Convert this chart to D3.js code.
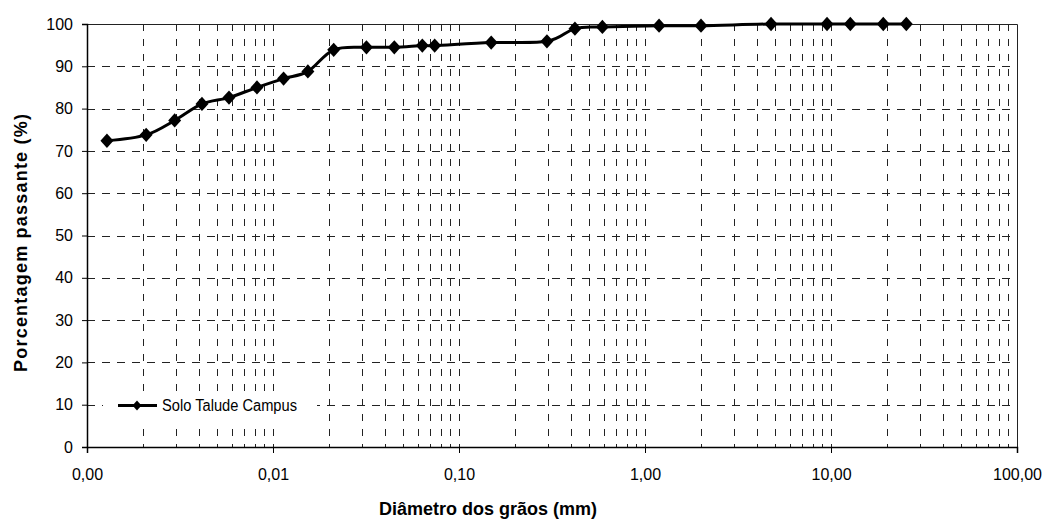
<!DOCTYPE html>
<html>
<head>
<meta charset="utf-8">
<script src="https://cdn.jsdelivr.net/npm/d3@7"></script>
<style>
  body { margin: 0; background: #fff; }
  text { font-family: "Liberation Sans", Arial, sans-serif; fill: #000; }
</style>
</head>
<body>
<div class="canvas"></div>
<script>
const serie = 'Solo Talude Campus';
const diametros = [0.00128, 0.00208, 0.00296, 0.00415, 0.0058, 0.0082, 0.0114, 0.0154,
  0.0212, 0.0318, 0.0449, 0.0635, 0.074, 0.149, 0.297, 0.42, 0.59, 1.19, 2.0,
  4.76, 9.52, 12.7, 19.1, 25.4];
const passantes = [72.4, 73.8, 77.2, 81.1, 82.6, 85.0, 87.1, 88.8, 93.9, 94.5, 94.5,
  94.9, 94.9, 95.6, 95.9, 98.9, 99.3, 99.6, 99.6, 100, 100, 100, 100, 100];
const xTicks = [0.001, 0.01, 0.1, 1, 10, 100];
const xTickLabels = ['0,00', '0,01', '0,10', '1,00', '10,00', '100,00'];
const yTicks = [0, 10, 20, 30, 40, 50, 60, 70, 80, 90, 100];

const data = diametros.map((d, i) => ({ d: d, p: passantes[i] }));

const svg = d3.select('.canvas')
  .append('svg')
  .attr('width', 1047)
  .attr('height', 522);

const plotL = 87, plotT = 24, plotR = 1017, plotB = 447;

const x = d3.scaleLog()
  .domain([0.001, 100])
  .range([plotL, plotR]);

const y = d3.scaleLinear()
  .domain([0, 100])
  .range([plotB, plotT]);

const px = v => Math.round(v) + 0.5;

// grid
const minors = x.ticks().filter(t => t > 0.001 && t < 100);
svg.append('g')
  .selectAll('line')
  .data(minors)
  .join('line')
  .attr('x1', d => px(x(d)))
  .attr('x2', d => px(x(d)))
  .attr('y1', plotT)
  .attr('y2', plotB)
  .attr('stroke', '#222')
  .attr('stroke-dasharray', '7,8');

svg.append('g')
  .selectAll('line')
  .data(yTicks.filter(t => t > 0 && t < 100))
  .join('line')
  .attr('x1', plotL)
  .attr('x2', plotR)
  .attr('y1', d => px(y(d)))
  .attr('y2', d => px(y(d)))
  .attr('stroke', '#222')
  .attr('stroke-dasharray', '8,7');

// frame top / right
svg.append('path')
  .attr('d', `M${plotL},${px(plotT)}H${px(plotR)}V${plotB}`)
  .attr('fill', 'none')
  .attr('stroke', '#222');

// axes
const xAxis = d3.axisBottom(x)
  .tickValues(xTicks)
  .tickFormat((d, i) => xTickLabels[i])
  .tickSizeOuter(0)
  .tickSize(6)
  .tickPadding(16);

const gx = svg.append('g')
  .attr('transform', `translate(0,${px(plotB) - 0.5})`)
  .call(xAxis);
gx.selectAll('text').style('font-size', '16px');

const yAxis = d3.axisLeft(y)
  .tickValues(yTicks)
  .tickSizeOuter(0)
  .tickSize(5)
  .tickPadding(9);

const gy = svg.append('g')
  .attr('transform', `translate(${px(plotL) - 0.5},0)`)
  .call(yAxis);
gy.selectAll('text').style('font-size', '16px');
gy.select('.domain').attr('stroke-width', 1.5);
gx.select('.domain').attr('stroke-width', 1.5);

// titles
svg.append('text')
  .attr('x', 488)
  .attr('y', 515)
  .attr('text-anchor', 'middle')
  .style('font-size', '18px')
  .style('font-weight', 'bold')
  .text('Diâmetro dos grãos (mm)');

svg.append('text')
  .attr('transform', 'translate(27,243) rotate(-90)')
  .attr('text-anchor', 'middle')
  .attr('textLength', 258)
  .attr('lengthAdjust', 'spacing')
  .style('font-size', '18px')
  .style('font-weight', 'bold')
  .text('Porcentagem passante (%)');

// series
const diamond = {
  draw(ctx, size) {
    const r = Math.sqrt(size / 2);
    ctx.moveTo(0, -r * 1.1);
    ctx.lineTo(r, 0);
    ctx.lineTo(0, r * 1.1);
    ctx.lineTo(-r, 0);
    ctx.closePath();
  }
};

const line = d3.line()
  .x(d => x(d.d))
  .y(d => y(d.p))
  .curve(d3.curveCatmullRom.alpha(0));

svg.append('path')
  .datum(data)
  .attr('d', line)
  .attr('fill', 'none')
  .attr('stroke', '#000')
  .attr('stroke-width', 3);

svg.append('g')
  .selectAll('path')
  .data(data)
  .join('path')
  .attr('transform', d => `translate(${x(d.d)},${y(d.p)})`)
  .attr('d', d3.symbol(diamond, 84))
  .attr('fill', '#000');

// legend
const leg = svg.append('g');
leg.append('rect')
  .attr('x', 103)
  .attr('y', 391)
  .attr('width', 214)
  .attr('height', 31)
  .attr('fill', '#fff');
const ly = px(y(10));
leg.append('line')
  .attr('x1', 118).attr('x2', 157)
  .attr('y1', ly).attr('y2', ly)
  .attr('stroke', '#000')
  .attr('stroke-width', 3);
leg.append('path')
  .attr('transform', `translate(137,${ly})`)
  .attr('d', d3.symbol(diamond, 40))
  .attr('fill', '#000');
leg.append('text')
  .attr('x', 162)
  .attr('y', ly)
  .attr('dy', '0.35em')
  .attr('textLength', 135)
  .attr('lengthAdjust', 'spacingAndGlyphs')
  .style('font-size', '16px')
  .text(serie);
</script>
</body>
</html>
